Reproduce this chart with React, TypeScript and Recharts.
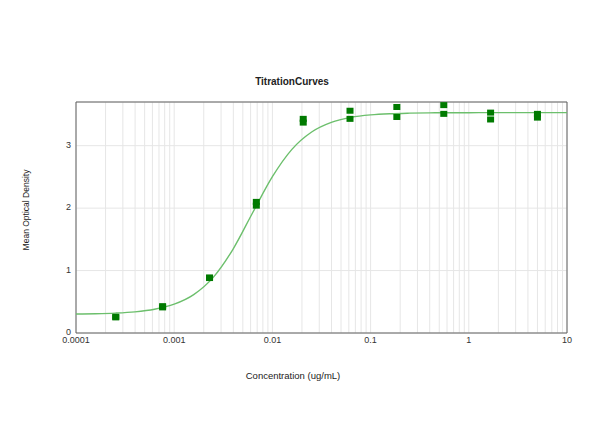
import React from 'react';
import {
  ComposedChart,
  XAxis,
  YAxis,
  CartesianGrid,
  Line,
  Scatter,
  ReferenceArea,
} from 'recharts';

// Concentrations (ug/mL) of the dilution series, with two replicate readings each
const concentrations = [0.000254, 0.000762, 0.00229, 0.00686, 0.0206, 0.0617, 0.185, 0.556, 1.667, 5];
const replicateA = [0.25, 0.41, 0.88, 2.04, 3.37, 3.43, 3.46, 3.51, 3.42, 3.45];
const replicateB = [0.26, 0.43, 0.89, 2.10, 3.43, 3.56, 3.62, 3.65, 3.53, 3.51];

// Fitted curve
const curveX = [
  0.0001, 0.000158, 0.000251, 0.000398, 0.000631, 0.001, 0.00158, 0.00251, 0.00398, 0.00631,
  0.01, 0.0158, 0.0251, 0.0398, 0.0631, 0.1, 0.158, 0.251, 0.398, 0.631, 1, 1.58, 2.51, 3.98, 6.31, 10,
];
const curveY = [
  0.304, 0.309, 0.319, 0.339, 0.381, 0.462, 0.615, 0.895, 1.345, 1.93,
  2.503, 2.941, 3.219, 3.373, 3.453, 3.493, 3.512, 3.521, 3.526, 3.528, 3.529, 3.53, 3.53, 3.53, 3.53, 3.53,
];

const decadeTicks = [0.0001, 0.001, 0.01, 0.1, 1, 10];
const decadeLabels = ['0.0001', '0.001', '0.01', '0.1', '1', '10'];
const gridTicks = [
  0.0001, 0.0002, 0.0003, 0.0004, 0.0005, 0.0006, 0.0007, 0.0008, 0.0009,
  0.001, 0.002, 0.003, 0.004, 0.005, 0.006, 0.007, 0.008, 0.009,
  0.01, 0.02, 0.03, 0.04, 0.05, 0.06, 0.07, 0.08, 0.09,
  0.1, 0.2, 0.3, 0.4, 0.5, 0.6, 0.7, 0.8, 0.9,
  1, 2, 3, 4, 5, 6, 7, 8, 9, 10,
];
const yTicks = [0, 1, 2, 3];

const title = 'TitrationCurves';
const xTitle = 'Concentration (ug/mL)';
const yTitle = 'Mean Optical Density';

const curveData = curveX.map((x, i) => ({ x, y: curveY[i] }));
const pointData = concentrations.flatMap((x, i) => [
  { x, y: replicateA[i] },
  { x, y: replicateB[i] },
]);

const FONT = '"Liberation Sans", Arial, sans-serif';

const SquareMarker = (props: any) => {
  const { cx, cy } = props;
  if (cx == null || cy == null) return null;
  return <rect x={cx - 3.5} y={cy - 3} width={7} height={6} fill="#007a00" />;
};

const formatX = (v: number) => {
  const idx = decadeTicks.findIndex((d) => Math.abs(d - v) / d < 1e-6);
  return idx >= 0 ? decadeLabels[idx] : '';
};

export default function App() {
  return (
    <div style={{ position: 'absolute', left: 0, top: 0, width: 600, height: 447, background: '#fff' }}>
      <ComposedChart
        width={600}
        height={447}
        margin={{ top: 102, right: 33, bottom: 84, left: 0 }}
      >
        <CartesianGrid stroke="#e6e6e6" strokeWidth={1} />
        <XAxis
          type="number"
          dataKey="x"
          scale="log"
          domain={[0.0001, 10]}
          ticks={gridTicks}
          interval={0}
          tickFormatter={formatX}
          allowDataOverflow
          axisLine={false}
          tickLine={false}
          tickSize={0}
          tickMargin={4}
          height={30}
          tick={{ fontSize: 9, fill: '#333', fontFamily: FONT }}
        />
        <YAxis
          type="number"
          dataKey="y"
          domain={[0, 3.7]}
          ticks={yTicks}
          interval={0}
          allowDataOverflow
          axisLine={false}
          tickLine={false}
          tickSize={0}
          tickMargin={5}
          width={76}
          tick={{ fontSize: 9, fill: '#333', fontFamily: FONT, dy: -1 }}
        />
        <ReferenceArea
          x1={0.0001}
          x2={10}
          y1={0}
          y2={3.7}
          fill="none"
          fillOpacity={0}
          stroke="#606060"
          strokeWidth={1}
          ifOverflow="visible"
        />
        <Line
          data={curveData}
          dataKey="y"
          type="monotone"
          stroke="#6cbf6c"
          strokeWidth={1.4}
          dot={false}
          activeDot={false}
          isAnimationActive={false}
        />
        <Scatter
          data={pointData}
          dataKey="y"
          shape={<SquareMarker />}
          isAnimationActive={false}
        />
      </ComposedChart>
      <div
        style={{
          position: 'absolute',
          left: 192,
          width: 200,
          top: 76,
          textAlign: 'center',
          fontFamily: FONT,
          fontWeight: 'bold',
          fontSize: 10,
          color: '#222',
          lineHeight: '12px',
        }}
      >
        {title}
      </div>
      <div
        style={{
          position: 'absolute',
          left: 193,
          width: 200,
          top: 370,
          textAlign: 'center',
          fontFamily: FONT,
          fontSize: 9.5,
          color: '#222',
          lineHeight: '12px',
        }}
      >
        {xTitle}
      </div>
      <div
        style={{
          position: 'absolute',
          left: 26 - 60,
          width: 120,
          top: 210 - 6,
          textAlign: 'center',
          fontFamily: FONT,
          fontSize: 8.5,
          color: '#222',
          lineHeight: '12px',
          transform: 'rotate(-90deg)',
        }}
      >
        {yTitle}
      </div>
    </div>
  );
}
